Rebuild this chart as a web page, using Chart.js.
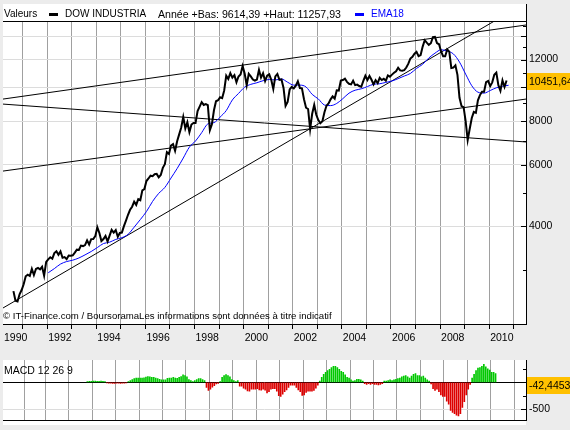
<!DOCTYPE html>
<html>
<head>
<meta charset="utf-8">
<script src="https://cdn.jsdelivr.net/npm/chart.js@4"></script>
<style>
body { margin: 0; background: #ececec; width: 570px; height: 430px; overflow: hidden; position: relative; font-family: "Liberation Sans", Arial, sans-serif; }
.panel { position: absolute; background: #fff; }
.txt { position: absolute; font-size: 10px; line-height: 12px; white-space: nowrap; color: #000; }
.key { position: absolute; width: 9px; height: 3px; }
canvas { position: absolute; left: 0; }
</style>
</head>
<body>
<div class="panel" style="left:3px;top:4px;width:523px;height:320px"></div>
<div class="panel" style="left:3px;top:360px;width:523px;height:65px"></div>
<canvas id="grafico1" width="570" height="350" style="top:0"></canvas>
<canvas id="grafico2" width="570" height="80" style="top:350px"></canvas>

<div class="txt" style="left:4px;top:8px">Valeurs</div>
<div class="key" style="left:49px;top:13px;background:#000"></div>
<div class="txt" style="left:65px;top:8px">DOW INDUSTRIA</div>
<div class="txt" style="left:158px;top:8px;font-size:10.6px">Année +Bas: 9614,39 +Haut: 11257,93</div>
<div class="key" style="left:355px;top:13px;background:#0000ff"></div>
<div class="txt" style="left:371px;top:8px;color:#0000ff">EMA18</div>
<div class="txt" style="left:3px;top:310px;font-size:9.6px">© IT-Finance.com / BoursoramaLes informations sont données à titre indicatif</div>
<div class="txt" style="left:4px;top:364px;font-size:10.5px">MACD 12 26 9</div>

<script>
// cours mensuels du Dow Jones, d'août 1990 à septembre 2010
const dowStart = [1990, 8];
const dowClose = [
    2614, 2453, 2442, 2560, 2634,
    2736, 2882, 2914, 2888, 3028, 2907, 3025, 3044, 3017, 3069, 2895, 3169,
    3223, 3268, 3236, 3359, 3397, 3319, 3394, 3257, 3272, 3226, 3305, 3301,
    3310, 3370, 3435, 3428, 3527, 3516, 3540, 3651, 3555, 3681, 3684, 3754,
    3978, 3832, 3636, 3682, 3758, 3625, 3765, 3913, 3843, 3908, 3739, 3834,
    3843, 4011, 4158, 4321, 4465, 4556, 4709, 4611, 4789, 4756, 5075, 5117,
    5395, 5486, 5588, 5569, 5643, 5655, 5529, 5616, 5882, 6029, 6522, 6448,
    6813, 6878, 6584, 7009, 7331, 7673, 8223, 7622, 7945, 7442, 7823, 7908,
    7907, 8546, 8800, 9063, 8900, 8952, 8883, 7539, 7843, 8592, 9117, 9181,
    9359, 9307, 9786, 10789, 10560, 10971, 10655, 10829, 10337, 10730, 10878, 11497,
    10941, 10128, 10922, 10734, 10522, 10448, 10522, 11215, 10651, 10971, 10415, 10787,
    10887, 10495, 9879, 10735, 10912, 10502, 10523, 9950, 8848, 9075, 9852, 10022,
    9920, 10106, 10404, 9946, 9925, 9243, 8737, 8664, 7592, 8397, 8896, 8342,
    8054, 7891, 7992, 8480, 8850, 8985, 9234, 9416, 9275, 9801, 9782, 10454,
    10488, 10584, 10358, 10226, 10188, 10435, 10140, 10174, 10080, 10027, 10428, 10783,
    10490, 10766, 10504, 10193, 10467, 10275, 10641, 10482, 10569, 10440, 10806, 10718,
    10865, 10993, 11109, 11367, 11168, 11150, 11186, 11381, 11679, 12081, 12222, 12463,
    12622, 12268, 12354, 13063, 13628, 13409, 13212, 13358, 13896, 13930, 13372, 13265,
    12650, 12266, 12263, 12820, 12638, 11350, 11378, 11544, 10851, 9325, 8829, 8776,
    8001, 7063, 7609, 8168, 8500, 8447, 9172, 9496, 9712, 9713, 10345, 10428,
    10067, 10325, 10857, 11009, 10137, 9774, 10466, 10015, 10452
];

// EMA18, un point par trimestre (janvier 1992 -> octobre 2010)
const emaStart = [1992, 1];
const ema18 = [
    2950, 3032, 3124, 3176,
    3205, 3252, 3319, 3393,
    3482, 3576, 3608, 3674,
    3717, 3798, 3982, 4186,
    4412, 4717, 4973, 5172,
    5501, 5857, 6276, 6744,
    7021, 7416, 7856, 7922,
    8217, 8576, 9198, 9597,
    10004, 10191, 10298, 10439,
    10520, 10492, 10555, 10334,
    10140, 10140, 10017, 9540,
    9258, 8896, 8861, 8987,
    9277, 9617, 9805, 9897,
    10043, 10197, 10230, 10325,
    10418, 10580, 10763, 10948,
    11318, 11628, 12120, 12507,
    12794, 12681, 12450, 11800,
    10900, 10100, 9680, 9620,
    9784, 9963, 10060, 10131
];

// histogramme MACD mensuel, avril 1993 -> septembre 2010
const macdStart = [1993, 4];
const macdHist = [
    15, 20, 20, 25, 25, 20, 20, 25, 20, 15,
    -10, -15, -15, -20, -20, -15, -15, -20, -15, -15, -10,
    17, 35, 52, 69, 80, 80, 80, 80, 86, 98, 109, 104, 92, 92, 80, 69,
    58, 46, 46, 46, 75, 80, 80, 92, 80, 75, 92, 109, 138, 127, 104, 52,
    35, 17, 35, 52, 69, 69, 52, 35,
    -92, -150, -127, -86, -58, -29, -17,
    17, 92, 127, 144, 127, 104, 52, 35, 17, 35,
    -69, -69, -104, -127, -155, -161, -127, -127, -127, -115, -138, -144, -127, -144,
    -196, -173, -127, -115, -115, -161, -247, -259, -219, -173, -138, -92, -52, -52,
    -52, -92, -138, -173, -242, -230, -184, -161, -161, -161, -150, -104, -52,
    23, 92, 150, 184, 219, 242, 276, 299, 299, 276, 242, 207, 184, 138, 92, 80,
    46, 23, 35, 58, 58, 46, 23,
    -23, -35, -23, -35, -23, -35, -35, -46, -35, -23,
    23, 23, 35, 46, 35, 46, 58, 69, 80, 104, 115, 127, 104, 80, 115, 150,
    161, 127, 127, 104, 115, 80, 46, 23,
    -29, -115, -150, -127, -173, -230, -259, -259, -345, -403, -518, -552, -575, -604,
    -621, -575, -460, -357, -230, -127, -35,
    80, 150, 219, 265, 276, 299, 334, 288, 253, 230, 184, 184, 161
];

// lignes de tendance : [annee, valeur] -> [annee, valeur]
const trendLines = [
    [[1990.2, 9250], [2011.5, 15060]],
    [[1990.2, 8950], [2011.5, 6975]],
    [[1990.2, 5760], [2011.5, 9250]],
    [[1990.2, 2340], [2011.5, 17450]]
];

const yearTicks = [1991, 1992, 1993, 1994, 1995, 1996, 1997, 1998, 1999, 2000,
    2001, 2002, 2003, 2004, 2005, 2006, 2007, 2008, 2009, 2010, 2011];
const yearLabels = ['1990', '1992', '1994', '1996', '1998', '2000', '2002', '2004', '2006', '2008', '2010'];
const priceMajor = [4000, 6000, 8000, 10000, 12000, 14000];
const priceMinor = [3000, 5000, 7000, 9000, 11000, 13000, 15000];
const priceLabels = [4000, 6000, 8000, 12000];
const macdMajor = [-500, 0];
const macdMinor = [-250, 250];
const macdLabels = [-500];
const lastPrice = 10451.64;
const lastMacd = -42.4453;

const xMin = 1990.2, xMax = 2011.5;

function monthPos(start, k) {
    return start[0] + (start[1] - 1 + k + 0.5) / 12;
}

Chart.defaults.font.family = '"Liberation Sans", Arial, sans-serif';
Chart.defaults.font.size = 10.5;
Chart.defaults.color = '#000';

// petits traits vers l'interieur + cadre + etiquette jaune
const axisDecor = {
    id: 'axisDecor',
    afterDraw(chart, args, opts) {
        const ctx = chart.ctx;
        const a = chart.chartArea;
        const y = chart.scales.y;
        ctx.save();
        ctx.strokeStyle = '#000';
        ctx.lineWidth = 1;
        ctx.beginPath();
        opts.major.forEach(v => {
            const p = Math.round(y.getPixelForValue(v)) + 0.5;
            ctx.moveTo(a.right - 5, p); ctx.lineTo(a.right, p);
        });
        opts.minor.forEach(v => {
            const p = Math.round(y.getPixelForValue(v)) + 0.5;
            ctx.moveTo(a.right - 3, p); ctx.lineTo(a.right, p);
        });
        if (opts.frame) {
            ctx.moveTo(a.left, a.top + 0.5); ctx.lineTo(a.right, a.top + 0.5);
            ctx.moveTo(a.right + 0.5, 4); ctx.lineTo(a.right + 0.5, a.top);
        }
        ctx.stroke();

        const by = Math.round(y.getPixelForValue(opts.box));
        ctx.fillStyle = '#ffc000';
        ctx.fillRect(a.right + 1, by - 8, chart.width - a.right - 1, 17);
        ctx.fillStyle = '#000';
        ctx.font = '10.5px "Liberation Sans", Arial, sans-serif';
        ctx.textBaseline = 'middle';
        ctx.fillText(String(opts.box).replace('.', ','), a.right + 3, by + 1);
        ctx.restore();
    }
};

function xAxis(showLabels) {
    return {
        type: 'linear', min: xMin, max: xMax,
        afterBuildTicks: s => { s.ticks = [xMin, ...yearTicks].map(v => ({ value: v })); },
        grid: {
            color: c => (c.tick && c.tick.value < 1991) ? 'rgba(0,0,0,0)' : '#a0a0a0',
            tickColor: c => (c.tick && c.tick.value < 1991) ? 'rgba(0,0,0,0)' : '#000',
            tickLength: 5,
            drawTicks: showLabels
        },
        border: { color: '#000' },
        ticks: {
            display: showLabels,
            autoSkip: false, maxRotation: 0, minRotation: 0,
            align: 'start', labelOffset: 1,
            callback: v => {
                const t = String(Math.floor(v));
                return yearLabels.includes(t) ? t : '';
            }
        },
        afterFit: s => { s.height = showLabels ? 26 : 5; }
    };
}

const dowPoints = dowClose.map((v, i) => ({ x: monthPos(dowStart, i), y: v }));
const emaPoints = ema18.map((v, i) => ({ x: monthPos(emaStart, i * 3), y: v }));
const macdPoints = macdHist.map((v, i) => ({ x: monthPos(macdStart, i), y: v }));

const lineSets = trendLines.map(l => ({
    data: l.map(p => ({ x: p[0], y: p[1] })),
    borderColor: '#000', borderWidth: 1, pointRadius: 0, order: 3
}));

let chart = new Chart(document.getElementById('grafico1'), {
    type: 'line',
    data: {
        datasets: [
            { data: dowPoints, borderColor: '#000', borderWidth: 2, pointRadius: 0, tension: 0, order: 1 },
            { data: emaPoints, borderColor: '#0000ff', borderWidth: 1, pointRadius: 0, cubicInterpolationMode: 'monotone', order: 2 },
            ...lineSets
        ]
    },
    options: {
        responsive: false,
        animation: false,
        layout: { padding: { top: 21, left: 3, right: 0, bottom: 0 } },
        plugins: {
            legend: { display: false },
            tooltip: { enabled: false },
            axisDecor: { major: priceMajor, minor: priceMinor, frame: true, box: lastPrice }
        },
        scales: {
            x: xAxis(true),
            y: {
                type: 'logarithmic', position: 'right', min: 2106, max: 15460,
                afterBuildTicks: s => {
                    s.ticks = [...priceMinor, ...priceMajor].sort((a, b) => a - b).map(v => ({ value: v }));
                },
                afterFit: s => { s.width = 44; },
                grid: {
                    drawTicks: false,
                    color: c => (c.tick && priceMajor.includes(c.tick.value)) ? '#dcdcdc' : 'rgba(0,0,0,0)'
                },
                border: { color: '#000' },
                ticks: {
                    padding: 3, autoSkip: false,
                    callback: v => priceLabels.includes(v) ? String(v) : ''
                }
            }
        }
    },
    plugins: [axisDecor]
});

let chartMacd = new Chart(document.getElementById('grafico2'), {
    type: 'bar',
    data: {
        datasets: [{
            data: macdPoints,
            backgroundColor: c => (c.raw && c.raw.y < 0) ? '#dd0000' : '#00c800',
            barThickness: 1
        }]
    },
    options: {
        responsive: false,
        animation: false,
        layout: { padding: { top: 10, left: 3, right: 0, bottom: 0 } },
        plugins: {
            legend: { display: false },
            tooltip: { enabled: false },
            axisDecor: { major: macdMajor, minor: macdMinor, frame: false, box: lastMacd }
        },
        scales: {
            x: xAxis(false),
            y: {
                type: 'linear', position: 'right', min: -707, max: 414,
                afterBuildTicks: s => { s.ticks = [-500, -250, 0, 250].map(v => ({ value: v })); },
                afterFit: s => { s.width = 44; },
                grid: {
                    drawTicks: false,
                    color: c => {
                        if (!c.tick) return 'rgba(0,0,0,0)';
                        if (c.tick.value === 0) return '#000';
                        if (c.tick.value === -500) return '#dcdcdc';
                        return 'rgba(0,0,0,0)';
                    }
                },
                border: { color: '#000' },
                ticks: {
                    padding: 3, autoSkip: false,
                    callback: v => macdLabels.includes(v) ? String(v) : ''
                }
            }
        }
    },
    plugins: [axisDecor]
});
</script>
</body>
</html>
